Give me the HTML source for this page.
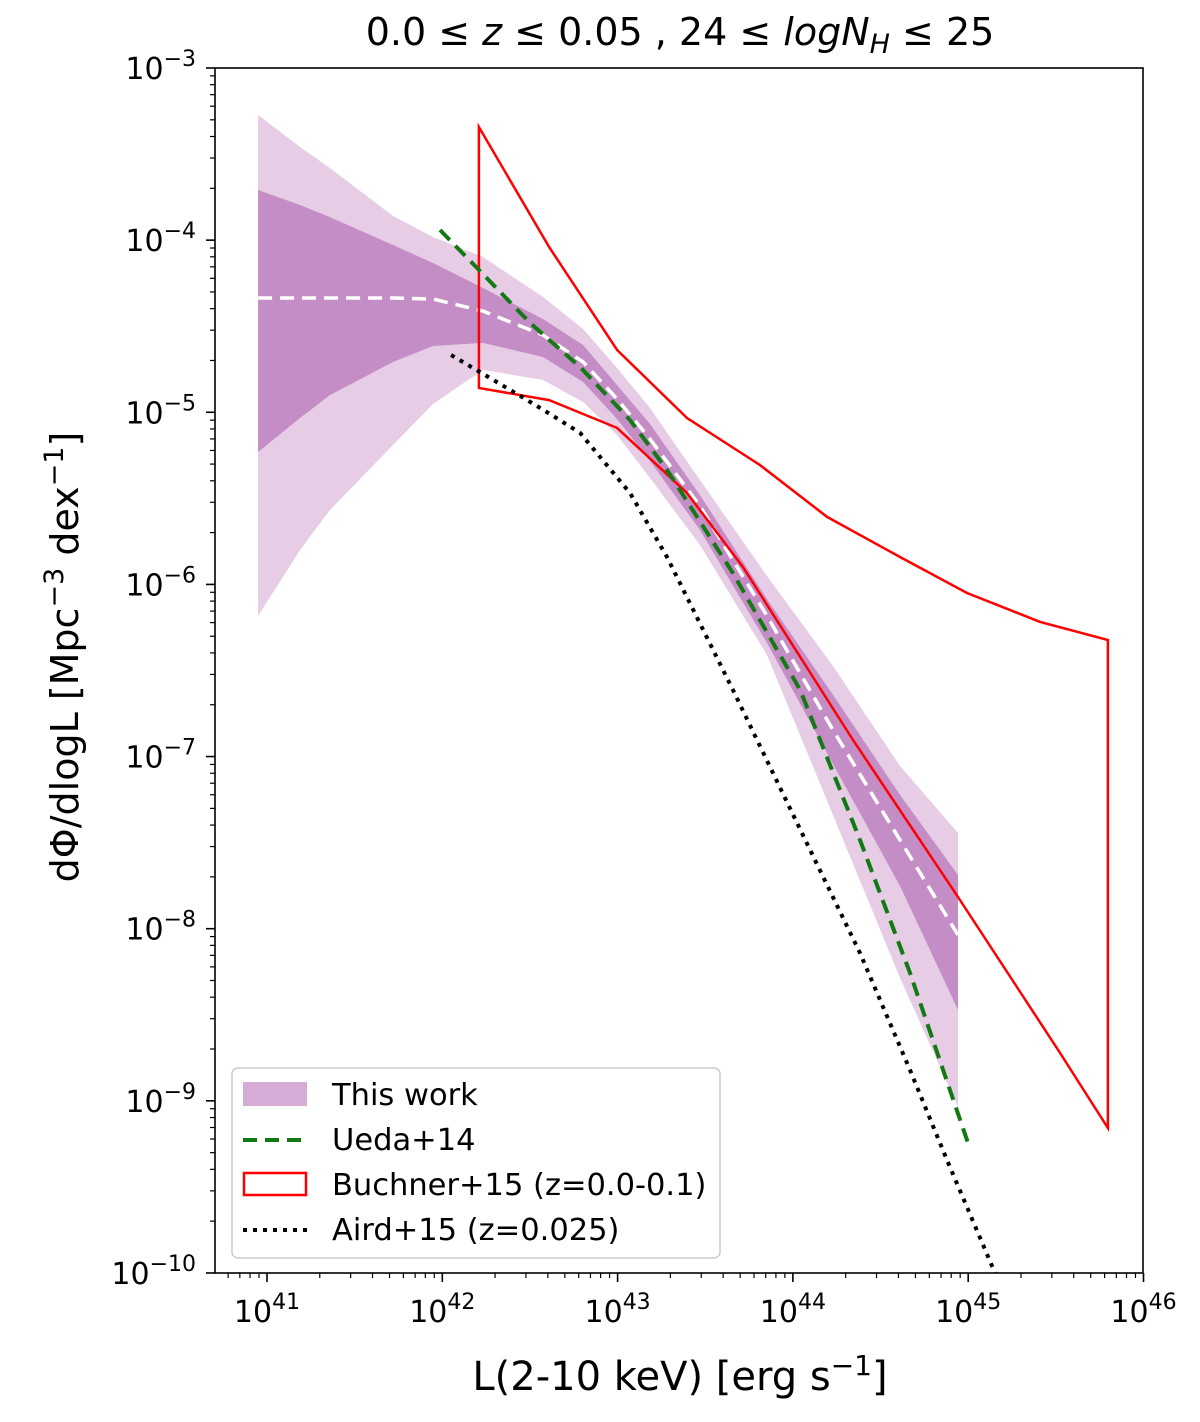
<!DOCTYPE html>
<html><head><meta charset="utf-8">
<style>
html,body{margin:0;padding:0;background:#fff;}
svg{display:block;font-family:"DejaVu Sans","Liberation Sans",sans-serif;}
</style></head>
<body>
<svg id="chart" width="1200" height="1422" viewBox="0 0 1200 1422" xmlns="http://www.w3.org/2000/svg">
<defs><clipPath id="clip"><rect x="215" y="68" width="928" height="1205"/></clipPath></defs>
<g id="bands" clip-path="url(#clip)"></g>
<g id="lines" clip-path="url(#clip)"></g>
<rect x="215" y="68" width="928" height="1205" fill="none" stroke="#000" stroke-width="1.6"/>
<g id="axes"></g>
<text x="680" y="45" font-size="38" text-anchor="middle">0.0 ≤ <tspan font-style="italic">z</tspan> ≤ 0.05 , 24 ≤ <tspan font-style="italic">logN</tspan><tspan font-style="italic" font-size="27" dy="8">H</tspan><tspan dy="-8"> ≤ 25</tspan></text>
<text x="680" y="1390" font-size="40" text-anchor="middle">L(2-10 keV) [erg s<tspan font-size="28" dy="-15">−1</tspan><tspan dy="15">]</tspan></text>
<text transform="translate(78,657) rotate(-90)" font-size="38" text-anchor="middle">dΦ/dlogL [Mpc<tspan font-size="27" dy="-15">−3</tspan><tspan dy="15"> dex</tspan><tspan font-size="27" dy="-15">−1</tspan><tspan dy="15">]</tspan></text>
<g>
<rect x="232" y="1068" width="488" height="190" rx="6" fill="#fff" fill-opacity="0.85" stroke="#ccc" stroke-width="1.5"/>
<rect x="243" y="1082" width="64" height="24" fill="#d6acd6"/>
<text x="332" y="1105" font-size="30.5">This work</text>
<line x1="243" y1="1140" x2="307" y2="1140" stroke="#137a13" stroke-width="4" stroke-dasharray="14,8"/>
<text x="332" y="1150" font-size="30.5">Ueda+14</text>
<rect x="244" y="1173" width="62" height="22" fill="none" stroke="#ff0000" stroke-width="2.5"/>
<text x="332" y="1195" font-size="30.5">Buchner+15 (z=0.0-0.1)</text>
<line x1="243" y1="1230" x2="307" y2="1230" stroke="#000" stroke-width="4" stroke-dasharray="4,6"/>
<text x="332" y="1240" font-size="30.5">Aird+15 (z=0.025)</text>
</g>
</svg>
<script>
const bandL = [40.949,41.188,41.359,41.719,41.947,42.232,42.574,42.803,42.997,43.185,43.470,43.852,44.229,44.611,44.942];
const outerHi = [-3.273,-3.459,-3.581,-3.860,-3.982,-4.098,-4.330,-4.516,-4.743,-4.975,-5.394,-5.951,-6.474,-7.055,-7.444];
const outerLo = [-6.183,-5.800,-5.568,-5.190,-4.952,-4.754,-4.812,-4.940,-5.132,-5.382,-5.771,-6.410,-7.340,-8.286,-9.036];
const innerHi = [-3.709,-3.796,-3.866,-4.028,-4.133,-4.278,-4.458,-4.609,-4.842,-5.068,-5.481,-6.085,-6.642,-7.223,-7.688];
const innerLo = [-5.231,-5.033,-4.900,-4.708,-4.615,-4.597,-4.679,-4.824,-5.039,-5.283,-5.684,-6.340,-7.043,-7.752,-8.472];
const median = [-4.336,-4.336,-4.336,-4.336,-4.342,-4.412,-4.551,-4.708,-4.923,-5.155,-5.545,-6.183,-6.846,-7.485,-8.036];
const uedaL = [41.987,42.215,42.500,42.786,43.071,43.282,43.658,44.041,44.383,44.668,44.999];
const uedaPhi = [-3.941,-4.179,-4.481,-4.737,-5.045,-5.335,-5.934,-6.613,-7.485,-8.257,-9.245];
const buchHiL = [42.209,42.609,42.997,43.396,43.812,44.195,44.611,44.993,45.410,45.797];
const buchHi = [-3.343,-4.040,-4.638,-5.033,-5.306,-5.608,-5.841,-6.050,-6.218,-6.323];
const buchLoL = [42.209,42.609,42.997,43.396,43.715,44.343,44.942,45.524,45.797];
const buchLo = [-4.859,-4.929,-5.091,-5.469,-5.899,-6.904,-7.816,-8.722,-9.158];
const airdL = [42.050,42.455,42.614,42.786,43.071,43.282,43.658,44.098,44.383,44.668,44.879,45.153];
const airdPhi = [-4.667,-4.911,-5.010,-5.120,-5.469,-5.841,-6.613,-7.543,-8.141,-8.821,-9.344,-10.0];
const xTicks = [41,42,43,44,45,46];
const yTicks = [-3,-4,-5,-6,-7,-8,-9,-10];

const NS='http://www.w3.org/2000/svg';
const X = l => 267 + (l-41)*175.3;
const Y = p => 68 - (p+3)*172.14;
function mk(tag, attrs, parent){const e=document.createElementNS(NS,tag);for(const k in attrs)e.setAttribute(k,attrs[k]);parent.appendChild(e);return e;}
const pts = (L,P) => L.map((l,i)=>X(l).toFixed(1)+','+Y(P[i]).toFixed(1));
const bands=document.getElementById('bands'), lines=document.getElementById('lines'), axes=document.getElementById('axes');

let e=mk('polygon',{points:pts(bandL,outerHi).concat(pts(bandL,outerLo).reverse()).join(' '),fill:'#e7cce6'},bands);


e=mk('polygon',{points:pts(bandL,innerHi).concat(pts(bandL,innerLo).reverse()).join(' '),fill:'#c58dc6'},bands);


e=mk('polyline',{points:pts(bandL,median).join(' '),fill:'none',stroke:'#fff','stroke-width':3.5,'stroke-dasharray':'14,8'},lines);


e=mk('polygon',{points:pts(buchHiL,buchHi).concat(pts(buchLoL,buchLo).reverse()).join(' '),fill:'none',stroke:'#ff0000','stroke-width':2.5},lines);


e=mk('polyline',{points:pts(uedaL,uedaPhi).join(' '),fill:'none',stroke:'#137a13','stroke-width':4,'stroke-dasharray':'14,8'},lines);


e=mk('polyline',{points:pts(airdL,airdPhi).join(' '),fill:'none',stroke:'#000','stroke-width':4,'stroke-dasharray':'4,6'},lines);



for(let d=40;d<=46;d++){for(let m=1;m<10;m++){const l=d+Math.log10(m);const x=X(l);if(x<215||x>1143.5)continue;
 mk('line',{x1:x,x2:x,y1:1273,y2:m===1?1282:1278,stroke:'#000','stroke-width':m===1?1.6:1.2},axes);}}
xTicks.forEach(t=>{const g=mk('text',{x:X(t),y:1322,'font-size':30,'text-anchor':'middle'},axes);
 
 
 g.innerHTML='10<tspan font-size="22" dy="-13">'+t+'</tspan>';});
for(let d=-11;d<=-3;d++){for(let m=1;m<10;m++){const p=d+Math.log10(m);const y=Y(p);if(y<67.5||y>1274)continue;
 mk('line',{x1:m===1?206:210,x2:215,y1:y,y2:y,stroke:'#000','stroke-width':m===1?1.6:1.2},axes);}}
yTicks.forEach(t=>{const g=mk('text',{x:196,y:Y(t)+11,'font-size':30,'text-anchor':'end'},axes);
 
 
 g.innerHTML='10<tspan font-size="22" dy="-13">−'+(-t)+'</tspan>';});
</script>
</body></html>
